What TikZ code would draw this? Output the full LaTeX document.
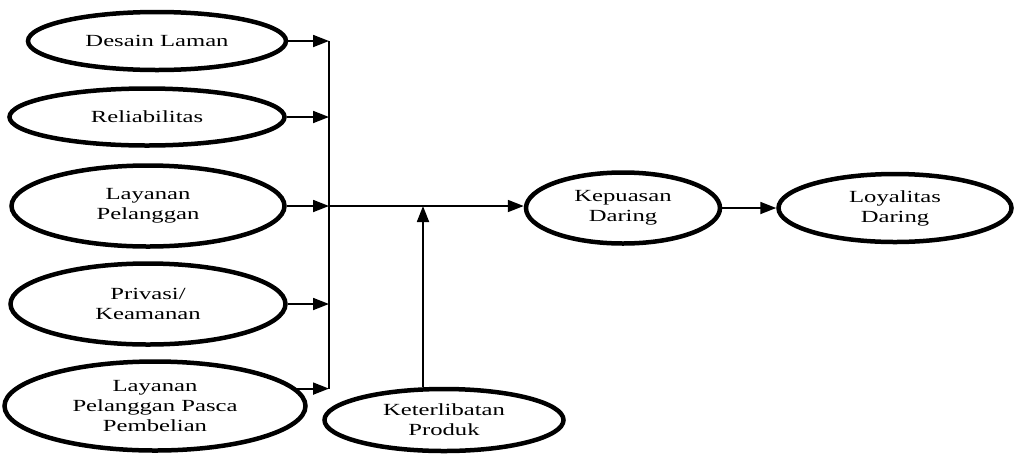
\documentclass[tikz,border=0pt]{standalone}
\usepackage{fontspec}
\newfontfamily\lblfont[FakeStretch=1.45]{Liberation Serif}
\usetikzlibrary{shapes.geometric,arrows.meta}
\begin{document}
\begin{tikzpicture}[x=1pt,y=-1pt,
  var/.style={draw=black,line width=4.5pt,ellipse,inner sep=0pt,align=center,
    font=\lblfont\fontsize{17}{20}\selectfont},
  conn/.style={draw=black,line width=1.8pt},
  arr/.style={conn,-{Triangle[length=16pt,width=12pt]}}]
\useasboundingbox (0,0) rectangle (1014,456);
\node[var,minimum width=258pt,minimum height=58pt] (e1) at (157,41) {Desain Laman};
\node[var,minimum width=275pt,minimum height=57pt] (e2) at (147,117) {Reliabilitas};
\node[var,minimum width=273pt,minimum height=81pt] (e3) at (148,206) {Layanan\\Pelanggan};
\node[var,minimum width=275pt,minimum height=81pt] (e4) at (148,304) {Privasi/\\Keamanan};
\node[var,minimum width=301pt,minimum height=89pt] (e5) at (155,406) {Layanan\\Pelanggan Pasca\\Pembelian};
\node[var,minimum width=239pt,minimum height=62pt] (e6) at (444,420) {Keterlibatan\\Produk};
\node[var,minimum width=194pt,minimum height=71pt] (e7) at (623,208) {Kepuasan\\Daring};
\node[var,minimum width=233pt,minimum height=68pt] (e8) at (895,208) {Loyalitas\\Daring};
\coordinate (bus) at (329,206);
\coordinate (k) at ([xshift=-21pt]e6.north);
\draw[conn] (e1.east -| bus) -- (e5.7 -| bus);
\draw[arr] (e1.east) -- (e1.east -| bus);
\draw[arr] (e2.east) -- (e2.east -| bus);
\draw[arr] (e3.east) -- (e3.east -| bus);
\draw[arr] (e4.east) -- (e4.east -| bus);
\draw[arr] (e5.7) -- (e5.7 -| bus);
\draw[arr] (bus) -- (bus -| e7.west);
\draw[arr] (k) -- (k |- bus);
\draw[arr] (e7.east) -- (e8.west);
\end{tikzpicture}
\end{document}
